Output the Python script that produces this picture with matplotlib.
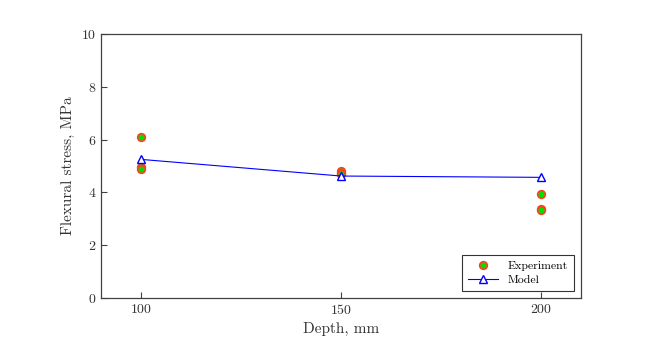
import numpy as np
import matplotlib
matplotlib.use("Agg")
import matplotlib.pyplot as plt

# Data
exp_depth = [100, 100, 100, 150, 150, 150, 200, 200, 200]
exp_stress = [6.08, 4.95, 4.90, 4.80, 4.75, 4.70, 3.95, 3.37, 3.32]
model_depth = [100, 150, 200]
model_stress = [5.25, 4.62, 4.57]
xticks = [100, 150, 200]
yticks = [0, 2, 4, 6, 8, 10]

plt.rcParams["font.family"] = "cmr10"
plt.rcParams["axes.formatter.use_mathtext"] = True
plt.rcParams["mathtext.fontset"] = "cm"

fig = plt.figure(figsize=(6.59, 3.61), dpi=100)
ax = fig.add_axes([101 / 659, 63 / 361, 480 / 659, 264 / 361])

ax.plot(exp_depth, exp_stress, linestyle="none", marker="o", markersize=5.5,
        markerfacecolor="#00e000", markeredgecolor="#ff4020", markeredgewidth=1.2,
        label="Experiment")
ax.plot(model_depth, model_stress, color="blue", linewidth=0.8, marker="^",
        markersize=6, markerfacecolor="white", markeredgecolor="blue",
        markeredgewidth=1.0, label="Model")

ax.set_xlim(90, 210)
ax.set_ylim(0, 10)
ax.set_xticks(xticks)
ax.set_yticks(yticks)
ax.tick_params(direction="in", length=4, width=0.8, labelsize=10,
               color="#404040", labelcolor="#333333")
ax.set_xlabel("Depth, mm", fontsize=11, color="#333333")
ax.set_ylabel("Flexural stress, MPa", fontsize=11, color="#333333")
for s in ax.spines.values():
    s.set_linewidth(0.9)
    s.set_color("#404040")

leg = ax.legend(loc="lower right", fontsize=8.5, frameon=True, fancybox=False,
                edgecolor="black", borderaxespad=0.6, handlelength=2.6,
                borderpad=0.5, labelspacing=0.3)
leg.get_frame().set_linewidth(0.8)

fig.savefig("out.png", dpi=100)
